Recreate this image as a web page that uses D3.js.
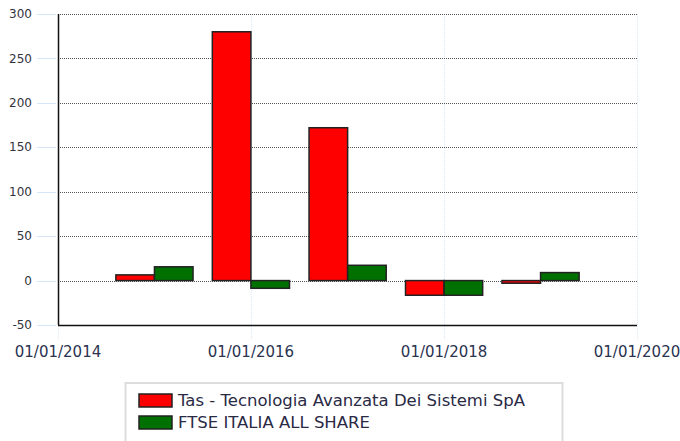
<!DOCTYPE html>
<html>
<head>
<meta charset="utf-8">
<script src="https://cdn.jsdelivr.net/npm/d3@7"></script>
<style>
  html, body { margin: 0; padding: 0; background: #fff; }
  svg { display: block; font-family: "DejaVu Sans", Verdana, sans-serif; }
</style>
</head>
<body>
<div id="chart"></div>
<script>
// ============ Data ============
const years = [2015, 2016, 2017, 2018, 2019];
const tasValues = [6.4, 280, 172, -16.5, -3];
const ftseValues = [15.5, -8.7, 17.2, -16.5, 9];
const seriesNames = ['Tas - Tecnologia Avanzata Dei Sistemi SpA', 'FTSE ITALIA ALL SHARE'];
const seriesColors = ['#ff0000', '#007000'];
const yTicks = [-50, 0, 50, 100, 150, 200, 250, 300];
const xTickYears = [2014, 2016, 2018, 2020];

const W = 680, H = 441;
const margin = { left: 58, right: 43, top: 14, bottom: 116 };
const innerW = W - margin.left - margin.right;
const innerH = H - margin.top - margin.bottom;

const svg = d3.select('#chart').append('svg')
  .attr('width', W).attr('height', H);

const x = d3.scaleTime()
  .domain([new Date(2014, 0, 1), new Date(2020, 0, 1)])
  .range([margin.left, margin.left + innerW]);

const y = d3.scaleLinear()
  .domain([-50, 300])
  .range([margin.top + innerH, margin.top]);

// ── Vertical grid (light blue, dotted) ──
svg.append('g').selectAll('line')
  .data(xTickYears).enter().append('line')
  .attr('x1', d => x(new Date(d, 0, 1)) + 0.5)
  .attr('x2', d => x(new Date(d, 0, 1)) + 0.5)
  .attr('y1', margin.top)
  .attr('y2', margin.top + innerH + 14)
  .attr('stroke', '#dbe8f8')
  .attr('stroke-width', 1)
  .attr('stroke-dasharray', '1,1');

// ── Horizontal grid (dark dotted) + short tick stubs ──
const gridY = svg.append('g');
gridY.selectAll('line.grid')
  .data(yTicks.filter(d => d !== -50)).enter().append('line')
  .attr('class', 'grid')
  .attr('x1', margin.left)
  .attr('x2', margin.left + innerW)
  .attr('y1', d => Math.round(y(d)) + 0.5)
  .attr('y2', d => Math.round(y(d)) + 0.5)
  .attr('stroke', '#555')
  .attr('stroke-width', 1)
  .attr('stroke-dasharray', '1,1');

gridY.selectAll('line.stub')
  .data(yTicks).enter().append('line')
  .attr('class', 'stub')
  .attr('x1', 37)
  .attr('x2', margin.left - 2)
  .attr('y1', d => Math.round(y(d)) + 0.5)
  .attr('y2', d => Math.round(y(d)) + 0.5)
  .attr('stroke', '#d6e6f8')
  .attr('stroke-width', 1);

gridY.selectAll('text')
  .data(yTicks).enter().append('text')
  .attr('x', 32)
  .attr('y', d => y(d))
  .attr('dy', '0.35em')
  .attr('text-anchor', 'end')
  .attr('font-size', 12)
  .attr('fill', '#333340')
  .text(d => d);

// ── Bars ──
const yearW = x(new Date(2016, 0, 1)) - x(new Date(2015, 0, 1));
const barW = yearW * 0.4;
const barData = [];
years.forEach((yr, i) => {
  barData.push({ yr, v: tasValues[i], s: 0 });
  barData.push({ yr, v: ftseValues[i], s: 1 });
});

svg.append('g').selectAll('rect')
  .data(barData).enter().append('rect')
  .attr('x', d => x(new Date(d.yr, 0, 1)) + (d.s === 0 ? -barW : 0))
  .attr('width', barW)
  .attr('y', d => y(Math.max(0, d.v)))
  .attr('height', d => Math.abs(y(d.v) - y(0)))
  .attr('fill', d => seriesColors[d.s])
  .attr('stroke', '#222')
  .attr('stroke-width', 1.5);

// ── Axes lines ──
svg.append('line')
  .attr('x1', margin.left + 0.5).attr('x2', margin.left + 0.5)
  .attr('y1', margin.top).attr('y2', margin.top + innerH)
  .attr('stroke', '#111').attr('stroke-width', 1.5);
svg.append('line')
  .attr('x1', margin.left).attr('x2', margin.left + innerW)
  .attr('y1', margin.top + innerH + 0.5).attr('y2', margin.top + innerH + 0.5)
  .attr('stroke', '#111').attr('stroke-width', 1.5);

// ── X tick labels ──
const fmt = d3.timeFormat('%d/%m/%Y');
svg.append('g').selectAll('text')
  .data(xTickYears).enter().append('text')
  .attr('x', d => x(new Date(d, 0, 1)))
  .attr('y', 357)
  .attr('text-anchor', 'middle')
  .attr('font-size', 15)
  .attr('fill', '#2a3350')
  .text(d => fmt(new Date(d, 0, 1)));

// ── Legend ──
const legend = svg.append('g');
legend.append('rect')
  .attr('x', 125.5).attr('y', 383)
  .attr('width', 437).attr('height', 70)
  .attr('fill', '#fff')
  .attr('stroke', '#dddddd')
  .attr('stroke-width', 2);

seriesNames.forEach((name, i) => {
  const ly = 394 + i * 22;
  legend.append('rect')
    .attr('x', 139).attr('y', ly)
    .attr('width', 33).attr('height', 13)
    .attr('fill', seriesColors[i])
    .attr('stroke', '#222')
    .attr('stroke-width', 1.5);
  legend.append('text')
    .attr('x', 178).attr('y', ly + 6.5)
    .attr('dy', '0.35em')
    .attr('font-size', 16.5)
    .attr('fill', '#2a2a45')
    .text(name);
});
</script>
</body>
</html>
